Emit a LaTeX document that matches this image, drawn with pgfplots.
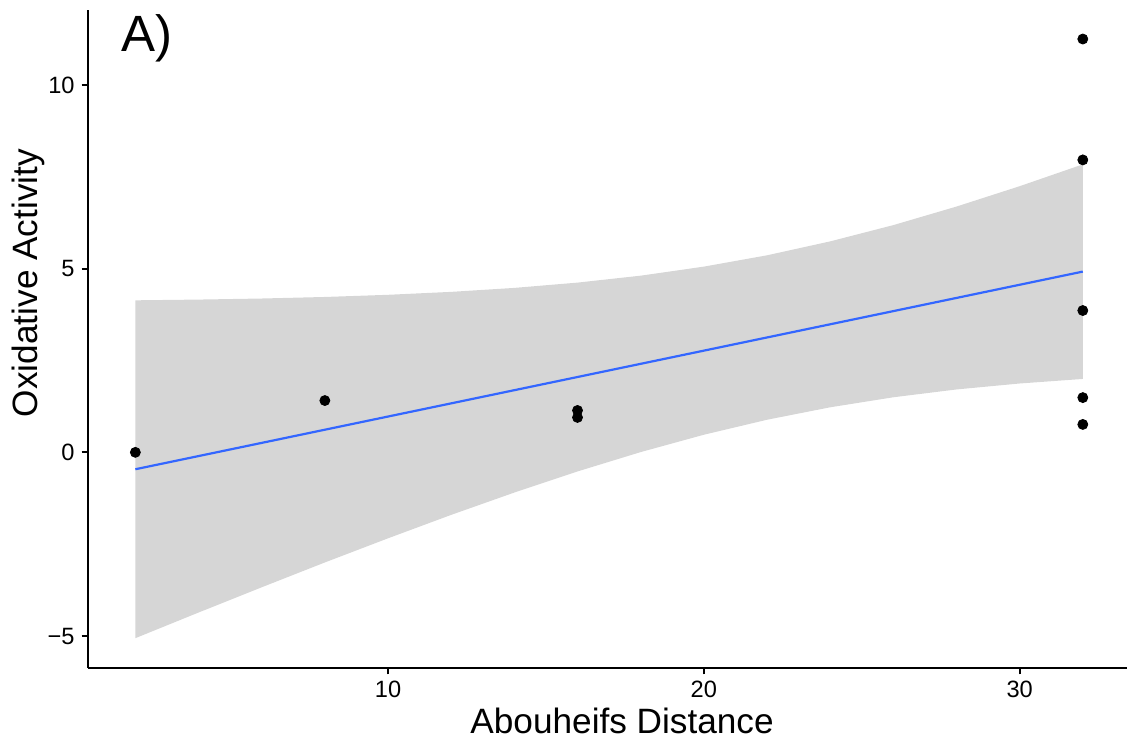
\documentclass[border=0pt]{standalone}
\usepackage{fontspec}
\setmainfont{Liberation Sans}
\usepackage{pgfplots}
\pgfplotsset{compat=1.18}
\definecolor{ribbon}{HTML}{D6D6D6}
\definecolor{fitblue}{HTML}{3366FF}
\begin{document}
\begin{tikzpicture}
\useasboundingbox (-44pt,-36pt) rectangle (519.5pt,334pt);
\begin{axis}[
  scale only axis,
  width=519.5pt, height=329pt,
  xmin=0.5, xmax=33.4, ymin=-5.87, ymax=12.04,
  axis x line*=bottom, axis y line*=left,
  axis line style={-, line width=1.1pt, black},
  tick align=outside, tick pos=left,
  major tick length=3.2pt,
  every tick/.style={black, line width=1pt},
  xtick={10,20,30}, ytick={-5,0,5,10},
  xticklabels={10,20,30}, yticklabels={−5,0,5,10},
  ticklabel style={font=\fontsize{11.8}{13}\selectfont, text=black},
  xlabel={Abouheifs Distance},
  ylabel={Oxidative Activity},
  label style={font=\fontsize{17.6}{20}\selectfont},
  xlabel style={at={(axis description cs:0.514,-0.0988)}, anchor=base},
  ylabel style={at={(axis description cs:-0.0577,0.585)}, anchor=center},
  clip=false,
]
\addplot[fill=ribbon, draw=none] coordinates {
 (2,4.138)(4,4.158)(6,4.187)(8,4.229)(10,4.288)(12,4.368)(14,4.476)(16,4.620)
 (18,4.809)(20,5.055)(22,5.363)(24,5.742)(26,6.185)(28,6.690)(30,7.244)(32,7.838)
 (32,1.998)(30,1.874)(28,1.712)(26,1.499)(24,1.226)(22,0.887)(20,0.479)(18,0.007)
 (16,-0.520)(14,-1.094)(12,-1.702)(10,-2.340)(8,-2.997)(6,-3.673)(4,-4.360)(2,-5.058)
} -- cycle;
\addplot[fitblue, line width=1.1pt] coordinates {(2,-0.46)(32,4.92)};
\addplot[only marks, mark=*, mark size=2.5pt, black] coordinates {
 (2,0) (8,1.41) (16,1.14) (16,0.95) (32,11.25) (32,7.96) (32,3.86) (32,1.49) (32,0.76)
};
\node[font=\fontsize{25.5}{28}\selectfont, anchor=center] at (axis description cs:0.0568,0.957) {A)};
\end{axis}
\end{tikzpicture}
\end{document}
